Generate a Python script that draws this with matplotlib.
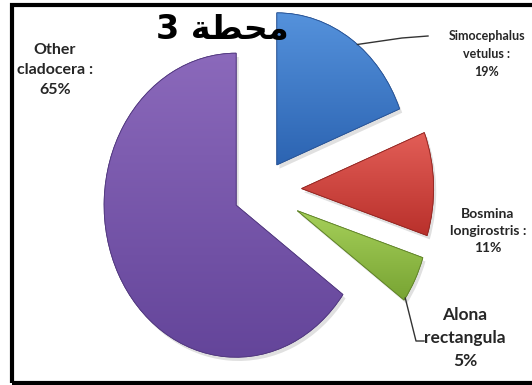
import numpy as np
import matplotlib
matplotlib.use("Agg")
import matplotlib.pyplot as plt
from matplotlib.colors import LinearSegmentedColormap
from matplotlib.patches import Rectangle, PathPatch

# data
labels = ["Simocephalus\nvetulus :\n19%", "Bosmina\nlongirostris :\n11%",
          "Alona\nrectangula\n5%", "Other\ncladocera :\n65%"]
values = [19, 11, 5, 65]
# title "محطة 3" written in visual order with presentation forms (no shaping in mpl)
title = "3 \uFE94\uFEC4\uFEA4\uFEE3"

top_cols = ["#5592dc", "#e25e57", "#a6d05a", "#8b69bb"]
bot_cols = ["#2c64b2", "#b9302b", "#78a433", "#64459a"]
edge_cols = ["#2a5597", "#942824", "#62852b", "#533a80"]

W, H = 532, 385
fig = plt.figure(figsize=(W / 100, H / 100), dpi=100)
ax = fig.add_axes([0, 0, 1, 1])

# pie centre and radii in pixels (chart is stretched vertically)
cx, cy, rx, ry = 262, 190, 132, 152

wedges, _ = ax.pie(values, explode=[0.2, 0.3, 0.3, 0.22], startangle=90,
                   counterclock=False, wedgeprops=dict(linewidth=0.6))
ax.set_aspect("auto")
xlim = (-cx / rx, (W - cx) / rx)
ylim = (-(H - cy) / ry, cy / ry)

grad = np.linspace(0, 1, 256).reshape(-1, 1)
for w, ct, cb, ce in zip(wedges, top_cols, bot_cols, edge_cols):
    w.set_facecolor(cb)
    w.set_edgecolor(ce)
    w.set_zorder(3)
    # soft shadow
    sh = PathPatch(w.get_path(), facecolor="black", edgecolor="none", alpha=0.12,
                   zorder=2)
    sh.set_transform(plt.matplotlib.transforms.Affine2D().translate(0.02, -0.025)
                     + ax.transData)
    ax.add_patch(sh)
    ext = w.get_path().get_extents()
    cmap = LinearSegmentedColormap.from_list("g", [cb, ct])
    im = ax.imshow(grad, extent=(ext.x0, ext.x1, ext.y0, ext.y1), origin="lower",
                   cmap=cmap, aspect="auto", zorder=3.5, interpolation="bilinear")
    im.set_clip_path(w)
    ax.add_patch(PathPatch(w.get_path(), fill=False, edgecolor=ce, lw=0.6, zorder=4))

ax.set_xlim(*xlim)
ax.set_ylim(*ylim)
ax.axis("off")

txt = "#262626"
font = "Lato"

def px(x, y):
    return x / W, 1 - y / H

# title sits behind the blue slice
fig.text(*px(222, 30), title, ha="center", va="center", fontsize=24,
         fontweight="bold", family=["DejaVu Sans"], color="black", zorder=1)

fig.text(*px(55, 70), labels[3], ha="center", va="center", fontsize=11.5,
         fontweight="bold", family=font, color=txt, linespacing=1.55)
fig.text(*px(487, 54), labels[0], ha="center", va="center", fontsize=9,
         fontweight="bold", family=font, color=txt, linespacing=1.55)
fig.text(*px(488, 231), labels[1], ha="center", va="center", fontsize=10,
         fontweight="bold", family=font, color=txt, linespacing=1.45)
fig.text(*px(465, 338), labels[2], ha="center", va="center", fontsize=12.5,
         fontweight="bold", family=font, color=txt, linespacing=1.55)

# leader lines from the arcs
def arc_point(w, frac):
    t = np.deg2rad(w.theta1 + frac * (w.theta2 - w.theta1))
    return w.center[0] + w.r * np.cos(t), w.center[1] + w.r * np.sin(t)

inv = ax.transData.inverted()
bx, by = arc_point(wedges[0], 0.45)
p1 = inv.transform(fig.transFigure.transform(px(402, 38)))
p2 = inv.transform(fig.transFigure.transform(px(428, 36)))
ax.plot([bx, p1[0], p2[0]], [by, p1[1], p2[1]], color="#333333", lw=1, zorder=5)

gx, gy = arc_point(wedges[2], 0.05)
q1 = inv.transform(fig.transFigure.transform(px(416, 341)))
q2 = inv.transform(fig.transFigure.transform(px(424, 341)))
ax.plot([gx, q1[0], q2[0]], [gy, q1[1], q2[1]], color="#333333", lw=1, zorder=5)

# black frame (right side runs off the picture)
fig.patches.append(Rectangle((12 / W, 2 / H), 1.2, (H - 7) / H, transform=fig.transFigure,
                             fill=False, edgecolor="black", lw=3, zorder=10))

fig.savefig("out.png", dpi=100)
